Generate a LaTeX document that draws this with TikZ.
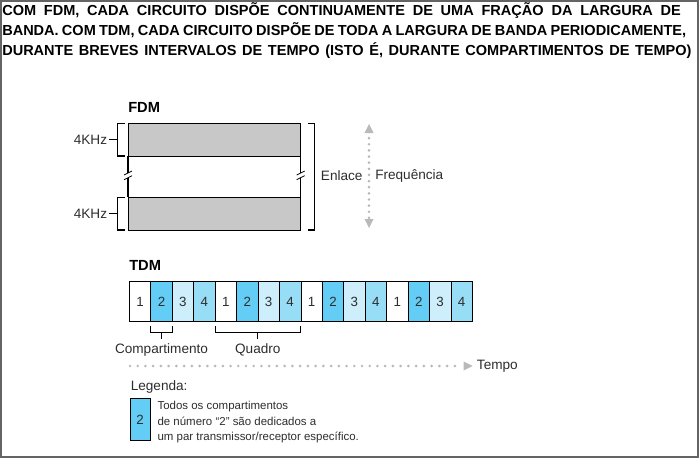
\documentclass[tikz,border=0pt]{standalone}
\usepackage{fontspec}
\setmainfont{Liberation Sans}
\usetikzlibrary{arrows.meta}
\definecolor{framegrey}{RGB}{100,100,100}
\definecolor{bandgrey}{RGB}{200,200,200}
\definecolor{dotgrey}{RGB}{185,185,185}
\definecolor{txtgrey}{RGB}{45,45,45}
\definecolor{slotc1}{RGB}{255,255,255}
\definecolor{slotc2}{RGB}{100,205,245}
\definecolor{slotc3}{RGB}{205,238,250}
\definecolor{slotc4}{RGB}{152,221,246}
\begin{document}
\begin{tikzpicture}[x=0.75pt, y=-0.75pt,
		head/.style={anchor=base west, inner sep=0pt, font=\fontsize{10.9}{12}\selectfont\bfseries},
		title/.style={anchor=base west, inner sep=0pt, font=\fontsize{11}{13}\selectfont\bfseries},
		txt/.style={text=txtgrey, inner sep=0pt, font=\fontsize{10.2}{12}\selectfont},
		small/.style={text=txtgrey, anchor=base west, inner sep=0pt, font=\fontsize{8.6}{11}\selectfont},
		band/.style={draw=black, fill=bandgrey, minimum width=129.5pt, minimum height=24.5pt, inner sep=0pt, outer sep=0pt, anchor=north west},
		slot/.style={draw=black, minimum width=16.08pt, minimum height=30pt, inner sep=0pt, outer sep=0pt, anchor=north west, text=txtgrey, font=\fontsize{10}{12}\selectfont},
		brk/.style={draw=black, line width=0.8pt},
		dots/.style={draw=dotgrey, line width=2.2pt, line cap=round, dash pattern=on 0pt off 5pt}]
	\useasboundingbox (0,0) rectangle (699,458);
	\draw[draw=framegrey, line width=1.5pt] (1,1) rectangle (698,457);
	% header
	\node[head] (h1) at (2,15.7) {\makebox[509pt][s]{COM FDM, CADA CIRCUITO DISPÕE CONTINUAMENTE DE UMA FRAÇÃO DA LARGURA DE}};
	\node[head] (h2) at (2,35) {\makebox[513pt][s]{BANDA. COM TDM, CADA CIRCUITO DISPÕE DE TODA A LARGURA DE BANDA PERIODICAMENTE,}};
	\node[head] (h3) at (2,55) {\makebox[517pt][s]{DURANTE BREVES INTERVALOS DE TEMPO (ISTO É, DURANTE COMPARTIMENTOS DE TEMPO)}};
	% FDM
	\node[title] (fdm) at (128,112.5) {FDM};
	\node[band] (b1) at (128,123.3) {};
	\node[band] (b2) at (128,197.3) {};
	\draw[brk] (b1.south west) -- ([yshift=-12.8pt]b1.south west);
	\draw[brk] ([yshift=-16.5pt]b1.south west) -- (b2.north west);
	\draw[brk] (b1.south east) -- ([yshift=-12.8pt]b1.south east);
	\draw[brk] ([yshift=-16.5pt]b1.south east) -- (b2.north east);
	\foreach \a in {south west,south east}{
		\draw[brk, line width=0.6pt] ([xshift=-3pt,yshift=-14.3pt]b1.\a) -- ++(6pt,3pt);
		\draw[brk, line width=0.6pt] ([xshift=-3pt,yshift=-17.8pt]b1.\a) -- ++(6pt,3pt);
	}
	\foreach \n/\k in {b1/k1,b2/k2}{
		\node[txt, anchor=east] (\k) at ([xshift=-15.5pt]\n.west) {4KHz};
		\draw[brk] ([xshift=-2.25pt]\n.north west) -- ([xshift=-7.7pt]\n.north west) -- ([xshift=-7.7pt]\n.south west) -- ([xshift=-2.25pt]\n.south west);
		\draw[brk] ([xshift=-7.7pt]\n.west) -- ([xshift=1.2pt]\k.east);
	}
	\draw[brk] ([xshift=5.5pt]b1.north east) -- ([xshift=10.7pt]b1.north east) -- ([xshift=10.7pt]b2.south east) -- ([xshift=5.5pt]b2.south east);
	\node[txt, anchor=west] (enl) at (320.7,176) {Enlace};
	\node[txt, anchor=west] (frq) at (375,176) {Frequência};
	\coordinate (fa) at (369,124);
	\coordinate (fb) at (369,228);
	\draw[dots, dash pattern=on 0pt off 4.6pt] ([yshift=-6pt]fa) -- ([yshift=6pt]fb);
	\fill[dotgrey] (fa) -- ++(-4.5,9) -- ++(9,0) -- cycle;
	\fill[dotgrey] (fb) -- ++(-4.5,-9) -- ++(9,0) -- cycle;
	% TDM
	\node[title] (tdm) at (129,270) {TDM};
	\foreach \i in {1,...,16}{
		\pgfmathtruncatemacro\n{mod(\i-1,4)+1}
		\node[slot, fill=slotc\n] (s\i) at ({129.3+(\i-1)*21.44},281.7) {\n};
	}
	\draw[brk] ([yshift=-3.2pt]s2.south west) -- ([yshift=-8.2pt]s2.south west) -- ([yshift=-8.2pt]s2.south east) -- ([yshift=-3.2pt]s2.south east);
	\draw[brk] ([yshift=-8.2pt]s2.south) -- ([yshift=-12.9pt]s2.south);
	\draw[brk] ([yshift=-3.2pt]s5.south west) -- ([yshift=-8.2pt]s5.south west) -- ([yshift=-8.2pt]s8.south east) -- ([yshift=-3.2pt]s8.south east);
	\draw[brk] ([yshift=-8.2pt]s6.south east) -- ([yshift=-12.9pt]s6.south east);
	\node[txt] (comp) at (161.5,349.5) {Compartimento};
	\node[txt] (quad) at (257.8,349.5) {Quadro};
	\coordinate (ta) at (130,366);
	\coordinate (tb) at (472.7,366);
	\draw[dots, dash pattern=on 0pt off 5.8pt] (ta) -- ([xshift=-8pt]tb);
	\fill[dotgrey] (tb) -- ++(-9,-4.5) -- ++(0,9) -- cycle;
	\node[txt, anchor=west] (tmp) at (476.7,366) {Tempo};
	% legenda
	\node[txt, anchor=west] (leg) at (130.5,386.5) {Legenda:};
	\node[slot, fill=slotc2, minimum width=15pt, minimum height=31.5pt] (lg) at (130,398.5) {2};
	\node[small] (l1) at (157.3,409.5) {Todos os compartimentos};
	\node[small] (l2) at (157.3,425) {de número “2” são dedicados a};
	\node[small] (l3) at (157.3,440.5) {um par transmissor/receptor específico.};
\end{tikzpicture}
\end{document}
